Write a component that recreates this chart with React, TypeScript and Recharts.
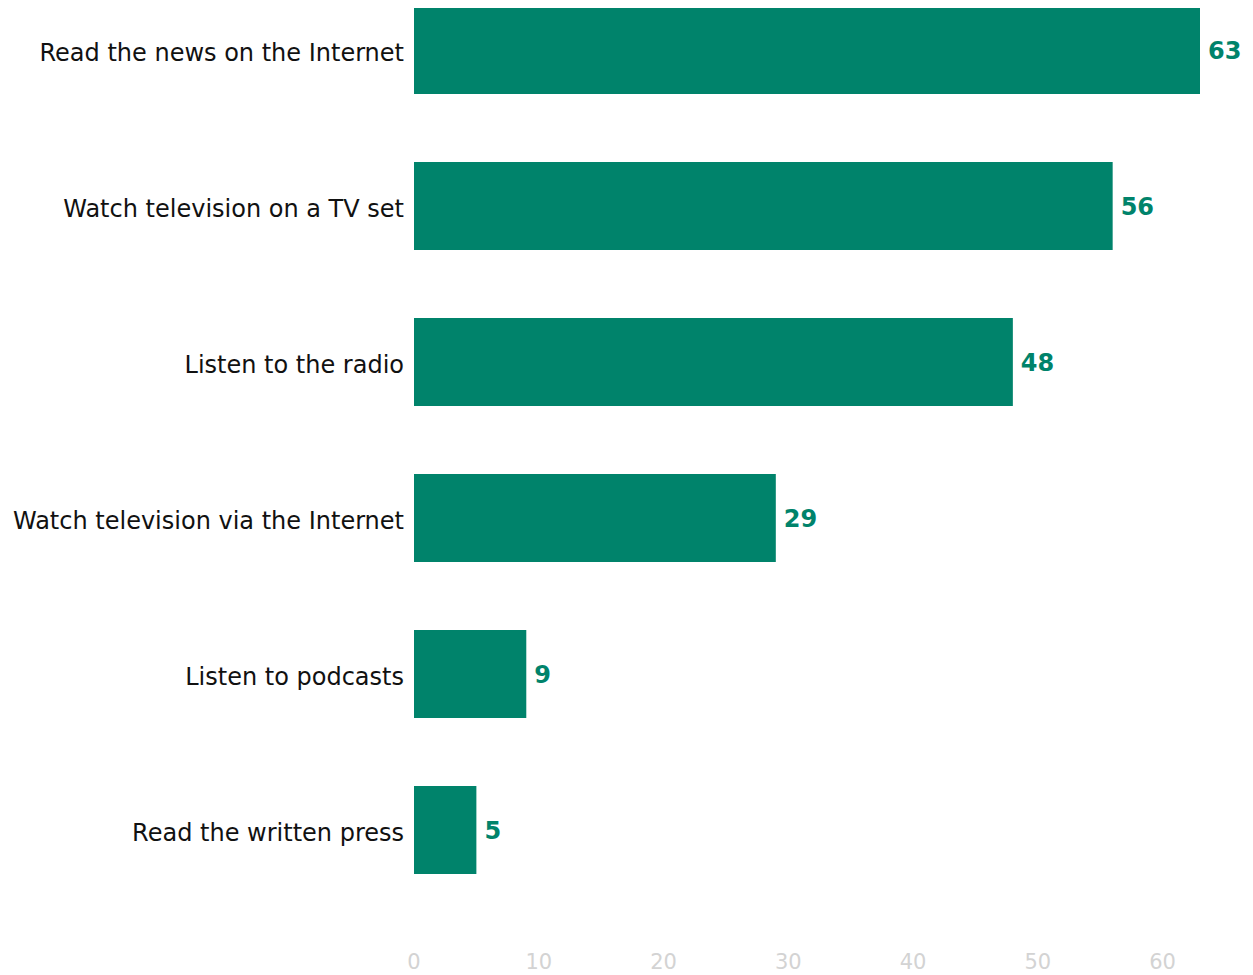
import React from "react";
import { BarChart, Bar, XAxis, YAxis, LabelList } from "recharts";

const categories = [
  "Read the news on the Internet",
  "Watch television on a TV set",
  "Listen to the radio",
  "Watch television via the Internet",
  "Listen to podcasts",
  "Read the written press",
];
const values = [63, 56, 48, 29, 9, 5];
const xTicks = [0, 10, 20, 30, 40, 50, 60];

const data = categories.map((name, i) => ({ name, value: values[i] }));

const TEAL = "#00836B";
const FONT = "'DejaVu Sans', 'Open Sans', sans-serif";

export default function App() {
  return (
    <div style={{ marginTop: -36, marginLeft: -8, width: 1253, height: 1003 }}>
      <BarChart
        width={1253}
        height={1003}
        data={data}
        layout="vertical"
        margin={{ top: 0, right: 53, bottom: 0, left: 0 }}
      >
        <XAxis
          type="number"
          domain={[0, 63]}
          ticks={xTicks}
          axisLine={false}
          tickLine={false}
          tickSize={0}
          tickMargin={46}
          height={67}
          tick={{ fill: "#d3d3d3", fontSize: 21, fontFamily: FONT }}
        />
        <YAxis
          type="category"
          dataKey="name"
          width={414}
          axisLine={false}
          tickLine={false}
          tickSize={0}
          tickMargin={10}
          tick={{ fill: "#111", fontSize: 24, fontFamily: FONT, dy: 2 }}
        />
        <Bar dataKey="value" fill={TEAL} barSize={88} isAnimationActive={false}>
          <LabelList
            dataKey="value"
            position="right"
            offset={8}
            fill={TEAL}
            fontSize={24}
            fontWeight={700}
            fontFamily={FONT}
          />
        </Bar>
      </BarChart>
    </div>
  );
}
